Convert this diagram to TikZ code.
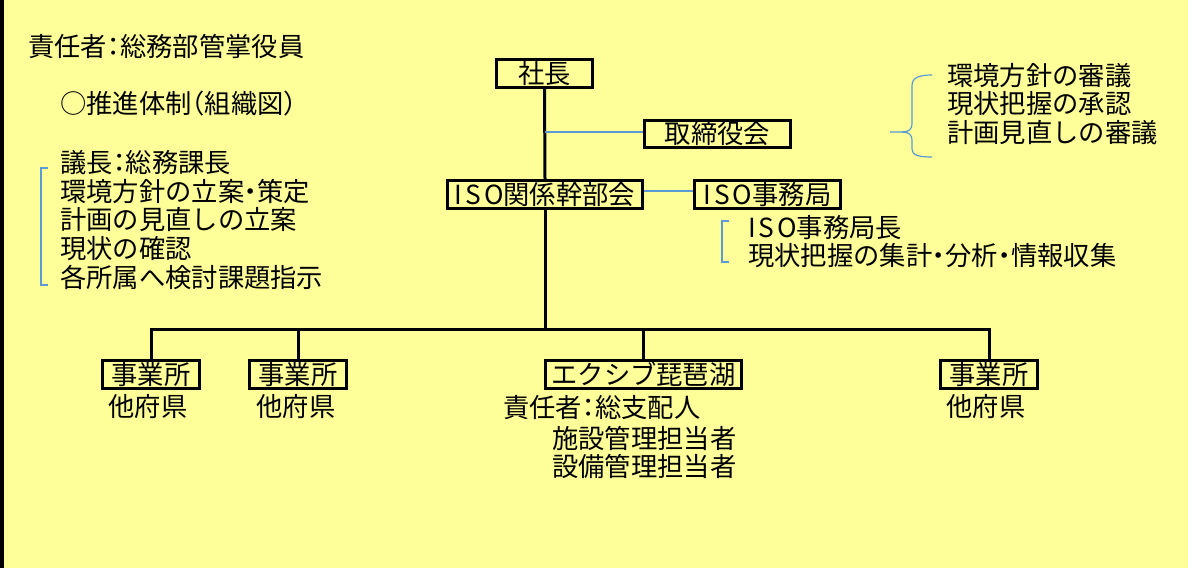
\documentclass[tikz,border=0pt]{standalone}
\usepackage{fontspec}
\setmainfont{Noto Sans CJK JP}
\newcommand\hwp[1]{{\addfontfeature{RawFeature=+halt}#1}}
\newcommand\isotxt{{\addfontfeature{LetterSpace=11}ISO}}
\definecolor{bgyellow}{RGB}{255,255,153}
\definecolor{lineblue}{RGB}{91,155,213}
\begin{document}
\begin{tikzpicture}[x=1pt,y=-1pt,
  every node/.style={inner sep=0pt, font=\fontsize{26.3pt}{28.7pt}\selectfont},
  orgbox/.style={draw=black, line width=3.4pt, minimum height=27.5pt, align=center},
  mainline/.style={draw=black, line width=3pt},
  blueline/.style={draw=lineblue, line width=1.4pt},
  txt/.style={align=left, anchor=west}]
\fill[bgyellow] (0,0) rectangle (1188,568);
\useasboundingbox (0,0) rectangle (1188,568);
\fill[black] (0,0) rectangle (4,568);

% text blocks
\node[txt] (resp) at (28,46) {責任者\hwp{：}総務部管掌役員};
\node[txt] (suishin) at (60,104) {○推進体制\hwp{（}組織図\hwp{）}};
\node[txt] (leftlist) at (60,220) {議長\hwp{：}総務課長\\環境方針の立案\hwp{・}策定\\計画の見直しの立案\\現状の確認\\各所属へ検討課題指示};
\node[txt] (rightlist) at (947,104) {環境方針の審議\\現状把握の承認\\計画見直しの審議};
\node[txt] (isolist) at (748,241.5) {\isotxt 事務局長\\現状把握の集計\hwp{・}分析\hwp{・}情報収集};

% boxes
\node[orgbox, minimum width=95.5pt] (shacho) at (544.5,73.5) {社長};
\node[orgbox, minimum width=145.5pt, minimum height=26.5pt] (tori) at (717.5,134) {取締役会};
\node[orgbox, minimum width=194.5pt] (kanbu) at (545,194.5) {\isotxt 関係幹部会};
\node[orgbox, minimum width=145.5pt] (jimu) at (767.5,194.5) {\isotxt 事務局};
\node[orgbox, minimum width=96.5pt] (jig1) at (151,374.5) {事業所};
\node[orgbox, minimum width=96.5pt] (jig2) at (298,374.5) {事業所};
\node[orgbox, minimum width=195.5pt] (exiv) at (643.5,374.5) {エクシブ琵琶湖};
\node[orgbox, minimum width=96.5pt] (jig4) at (989,374.5) {事業所};

% labels under boxes
\node (fu1) at (148,407) {他府県};
\node (fu2) at (296,407) {他府県};
\node (fu4) at (986,407) {他府県};
\node[txt] (exresp) at (503,408) {責任者\hwp{：}総支配人};
\node[txt] (exfac) at (552,438) {施設管理担当者};
\node[txt] (exeq) at (552,466) {設備管理担当者};

% main connectors
\coordinate (bus) at (545,329);
\draw[mainline] (shacho.south) -- (kanbu.north);
\draw[mainline] (kanbu.south) -- (bus);
\draw[mainline] (jig1.north) |- (bus) -| (jig4.north);
\draw[mainline] (jig2.north) -- (jig2.north |- bus);
\draw[mainline] (exiv.north) -- (exiv.north |- bus);

% blue connectors
\coordinate (torij) at (545,132);
\draw[blueline] (torij) -- (tori.west |- torij);
\draw[blueline] (kanbu.east |- 0,191) -- (jimu.west |- 0,191);

% brackets
\draw[blueline, line width=1.2pt] (48,168) -- (41,168) -- (41,285) -- (48,285);
\draw[blueline, line width=1.2pt] (729,221) -- (722,221) -- (722,262) -- (729,262);
\draw[blueline, line width=1.2pt] (932,75) .. controls (918,75) and (912,78) .. (912,86) -- (912,124) .. controls (912,129) and (909,132) .. (902,132) -- (890,132);
\draw[blueline, line width=1.2pt] (902,132) .. controls (909,132) and (912,135) .. (912,140) -- (912,149) .. controls (912,155) and (918,157) .. (932,157);
\end{tikzpicture}
\end{document}
